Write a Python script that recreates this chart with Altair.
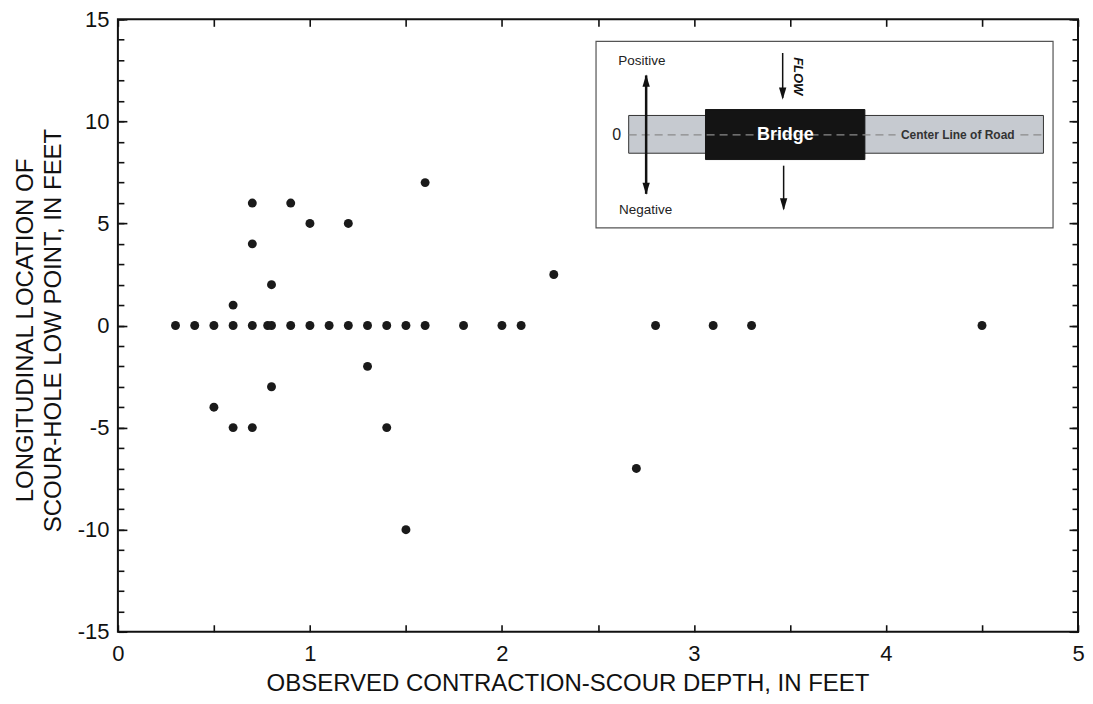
import altair as alt
import pandas as pd

# ---- data ----
depth = [0.3, 0.4, 0.5, 0.6, 0.7, 0.78, 0.8, 0.9, 1.0, 1.1, 1.2, 1.3, 1.4, 1.5, 1.6, 1.8,
         2.0, 2.1, 2.8, 3.1, 3.3, 4.5,
         0.6, 0.7, 0.7, 0.8, 0.9, 1.0, 1.2, 1.6, 2.27,
         0.8, 0.5, 0.6, 0.7, 1.3, 1.4, 1.5, 2.7]
location = [0, 0, 0, 0, 0, 0, 0, 0, 0, 0, 0, 0, 0, 0, 0, 0,
            0, 0, 0, 0, 0, 0,
            1, 4, 6, 2, 6, 5, 5, 7, 2.5,
            -3, -4, -5, -5, -2, -5, -10, -7]

x_label_ticks = [0, 1, 2, 3, 4, 5]
x_minor_ticks = [0, 0.5, 1, 1.5, 2, 2.5, 3, 3.5, 4, 4.5, 5]
y_label_ticks = [-15, -10, -5, 0, 5, 10, 15]
y_minor_ticks = list(range(-15, 16))

x_title = "OBSERVED CONTRACTION-SCOUR DEPTH, IN FEET"
y_title = ["LONGITUDINAL LOCATION OF", "SCOUR-HOLE LOW POINT, IN FEET"]

# ---- inset diagram (in data units) ----
inset_box = pd.DataFrame({"x": [2.49], "x2": [4.87], "y": [4.78], "y2": [13.92]})
road_box = pd.DataFrame({"x": [2.66], "x2": [4.82], "y": [8.44], "y2": [10.29]})
bridge_box = pd.DataFrame({"x": [3.06], "x2": [3.89], "y": [8.13], "y2": [10.58]})
center_line = pd.DataFrame({"x": [2.66, 4.70], "x2": [4.05, 4.82], "y": [9.34, 9.34]})
arrow_shafts = pd.DataFrame({"x": [2.751, 3.462, 3.467], "y": [6.45, 13.35, 7.83],
                             "y2": [12.25, 11.15, 5.70], "w": [2.5, 1.5, 1.5]})
UP = "M0,-1L0.6,1L-0.6,1Z"
DOWN = "M0,1L0.6,-1L-0.6,-1Z"
arrow_heads = pd.DataFrame({"x": [2.751, 2.751, 3.462, 3.467],
                            "y": [12.0, 6.70, 11.36, 5.93],
                            "shape": [UP, DOWN, DOWN, DOWN]})
plain_text = pd.DataFrame({"x": [2.597, 2.729, 2.748], "y": [9.34, 12.94, 5.66],
                           "label": ["0", "Positive", "Negative"], "size": [16, 13.5, 13.5]})
bridge_text = pd.DataFrame({"x": [3.476], "y": [9.34], "label": ["Bridge"]})
road_text = pd.DataFrame({"x": [4.374], "y": [9.34], "label": ["Center Line of Road"]})
flow_text = pd.DataFrame({"x": [3.541], "y": [12.21], "label": ["FLOW"]})

df = pd.DataFrame({"depth": depth, "location": location})

FONT = "Liberation Sans"
xs = alt.Scale(domain=[0, 5], nice=False, zero=False)
ys = alt.Scale(domain=[-15, 15], nice=False, zero=False)
HYPHEN = "datum.value < 0 ? '-' + format(-datum.value, 'd') : format(datum.value, 'd')"


def tick_axis(orient, values, size):
    return alt.Axis(orient=orient, values=values, offset=-size, tickSize=size,
                    labels=False, domain=False, grid=False, title=None,
                    tickColor="#111", tickWidth=1.6)


points = alt.Chart(df).mark_circle(size=80, color="#1a1a1a", opacity=1).encode(
    x=alt.X("depth:Q", scale=xs,
            axis=alt.Axis(orient="bottom", values=x_label_ticks, ticks=False, domain=False,
                          grid=False, labelPadding=12, labelFontSize=22, labelColor="#111",
                          labelFont=FONT, labelFlush=False, labelExpr=HYPHEN,
                          title=x_title, titleFont=FONT, titleFontSize=24,
                          titleFontWeight="normal", titleColor="#111",
                          titleX=450, titleY=59, titleBaseline="alphabetic")),
    y=alt.Y("location:Q", scale=ys,
            axis=alt.Axis(orient="left", values=y_label_ticks, ticks=False, domain=False,
                          grid=False, labelPadding=9, labelFontSize=22, labelColor="#111",
                          labelFont=FONT, labelExpr=HYPHEN,
                          title=y_title, titleFont=FONT, titleFontSize=24,
                          titleFontWeight="normal", titleColor="#111", titleLineHeight=28,
                          titlePadding=12, titleY=311)),
)


def tick_layer(xaxis, yaxis):
    return alt.Chart(df).mark_point(opacity=0).encode(
        x=alt.X("depth:Q", scale=xs, axis=xaxis),
        y=alt.Y("location:Q", scale=ys, axis=yaxis),
    )


t1 = tick_layer(tick_axis("bottom", x_minor_ticks, 7), tick_axis("left", y_minor_ticks, 6))
t2 = tick_layer(tick_axis("top", x_minor_ticks, 7), tick_axis("right", y_minor_ticks, 6))
t3 = tick_layer(None, tick_axis("left", y_label_ticks, 9))
t4 = tick_layer(None, tick_axis("right", y_label_ticks, 9))


def rect_layer(d, fill, stroke, sw):
    return alt.Chart(d).mark_rect(fill=fill, stroke=stroke, strokeWidth=sw).encode(
        x=alt.X("x:Q", scale=xs, axis=None), x2="x2:Q",
        y=alt.Y("y:Q", scale=ys, axis=None), y2="y2:Q")


box = rect_layer(inset_box, "white", "#555555", 1.2)
road = rect_layer(road_box, "#c6cad0", "#333333", 1)
bridge = rect_layer(bridge_box, "#141414", "#141414", 1)

cline = alt.Chart(center_line).mark_rule(color="#8a8a8a", strokeDash=[8, 5], strokeWidth=1.2).encode(
    x=alt.X("x:Q", scale=xs, axis=None), x2="x2:Q",
    y=alt.Y("y:Q", scale=ys, axis=None))

shafts = alt.Chart(arrow_shafts).mark_rule(color="#111").encode(
    x=alt.X("x:Q", scale=xs, axis=None),
    y=alt.Y("y:Q", scale=ys, axis=None), y2="y2:Q",
    strokeWidth=alt.StrokeWidth("w:Q", scale=None))

heads = alt.Chart(arrow_heads).mark_point(filled=True, color="#111", size=150, opacity=1).encode(
    x=alt.X("x:Q", scale=xs, axis=None),
    y=alt.Y("y:Q", scale=ys, axis=None),
    shape=alt.Shape("shape:N", scale=None))

txt_plain = alt.Chart(plain_text).mark_text(font=FONT, color="#222", baseline="middle").encode(
    x=alt.X("x:Q", scale=xs, axis=None),
    y=alt.Y("y:Q", scale=ys, axis=None),
    text="label:N", size=alt.Size("size:Q", scale=None))

txt_bridge = alt.Chart(bridge_text).mark_text(font=FONT, color="white", fontWeight="bold",
                                               fontSize=18, baseline="middle").encode(
    x=alt.X("x:Q", scale=xs, axis=None), y=alt.Y("y:Q", scale=ys, axis=None), text="label:N")

txt_road = alt.Chart(road_text).mark_text(font=FONT, color="#333", fontWeight="bold",
                                           fontSize=12, baseline="middle").encode(
    x=alt.X("x:Q", scale=xs, axis=None), y=alt.Y("y:Q", scale=ys, axis=None), text="label:N")

txt_flow = alt.Chart(flow_text).mark_text(font=FONT, color="#111", fontWeight="bold",
                                           fontStyle="italic", fontSize=13, angle=90,
                                           baseline="middle").encode(
    x=alt.X("x:Q", scale=xs, axis=None), y=alt.Y("y:Q", scale=ys, axis=None), text="label:N")

chart = alt.layer(
    points, t1, t2, t3, t4,
    box, road, bridge, cline, shafts, heads, txt_plain, txt_bridge, txt_road, txt_flow,
).resolve_axis(x="independent", y="independent").properties(
    width=961, height=613,
    autosize=alt.AutoSizeParams(type="none"),
    padding={"left": 110, "top": 11, "right": 7, "bottom": 64},
).configure_view(stroke="#111", strokeWidth=2)

chart.save("out.html", embed_options={"renderer": "svg", "actions": False})
